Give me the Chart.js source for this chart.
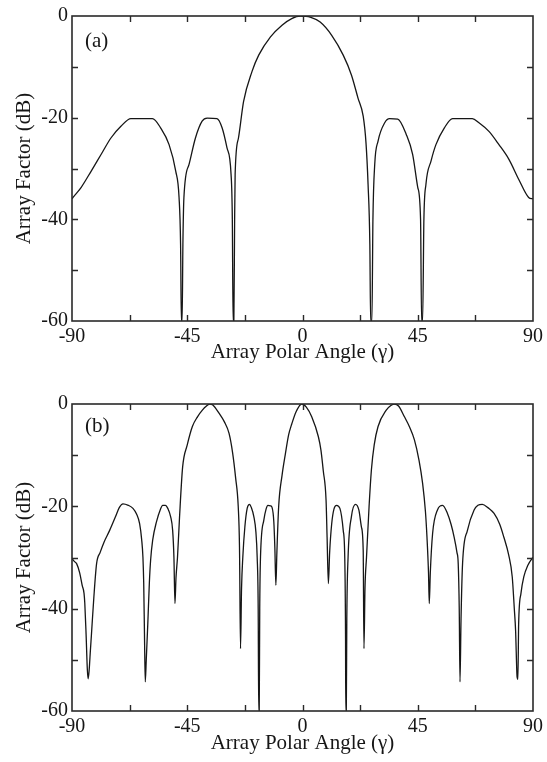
<!DOCTYPE html>
<html><head><meta charset="utf-8">
<script src="https://cdn.jsdelivr.net/npm/chart.js@4.4.1/dist/chart.umd.min.js"></script>
<style>html,body{margin:0;padding:0;background:#fff;}canvas{display:block;}</style>
</head><body>
<canvas id="ca" width="547" height="381"></canvas>
<canvas id="cb" width="547" height="381"></canvas>
<script>
// (a) array factor
const anglesA = [-90,-89.6,-86.4,-82.5,-78.6,-74.8,-70.9,-67,-58.6,-55.4,
  -52.1,-49.5,-48.2,-47.6,-47.3,-47,-46.7,-46.3,-44.3,-41.8,
  -39.2,-37.2,-33.4,-31.4,-29.5,-27.9,-27.4,-27.1,-26.8,-26.5,
  -26.3,-25,-23,-19.7,-17.1,-12.5,-8,-4.2,-0.9,3,
  6.9,11.4,15.9,19.1,21.7,23.7,24.8,25.6,26.3,26.6,
  27.1,27.5,28.2,29.5,32.1,34,37.2,40.5,43,45,
  46.1,46.5,46.9,47.4,48.2,50.2,52.1,55.4,58.6,66.3,
  68.9,72.8,76.7,80.6,84.4,88.3,90];
const dbA = [-36,-35.7,-33.7,-30.5,-27.2,-24,-21.7,-20.2,-20.2,-22,
  -25.3,-30.5,-35.7,-45,-60,-60,-45,-35.7,-29.2,-24,
  -20.7,-20.1,-20.2,-22,-25.9,-31.1,-40,-60,-60,-40,
  -31.1,-24,-16.8,-10.9,-7.7,-4.1,-1.8,-0.5,0,-0.2,
  -1.2,-3.8,-7.7,-11.6,-16.2,-19.7,-25,-33.1,-45,-60,
  -60,-40,-29.2,-24.6,-21,-20.2,-20.3,-23.3,-27.2,-33.7,
  -40,-60,-60,-40,-33.1,-28.5,-25.3,-22,-20.2,-20.2,
  -21,-22.7,-25.3,-28.2,-32.1,-35.7,-36];

// (b) array factor
const anglesB = [-90,-89,-88.2,-87,-86,-85.3,-85,-84.5,-84,-83.7,
  -83.3,-82.8,-82.4,-81.5,-80.4,-79,-77.5,-75.3,-73,-71.5,
  -70.1,-68,-66.2,-64.8,-63.6,-62.8,-62.3,-62,-61.7,-61.4,
  -61,-60.4,-59.8,-59.3,-58.5,-57,-55.5,-54.6,-53.5,-52.6,
  -51.5,-50.7,-50.2,-49.8,-49.4,-48.8,-48,-46.8,-45,-43,
  -41,-39.1,-37.5,-36.2,-35,-32.6,-30.5,-28.7,-27.3,-26.1,
  -25.1,-24.6,-24.2,-23.8,-23.3,-22.5,-21.6,-20.7,-20,-19,
  -18.2,-17.7,-17.3,-17.1,-16.9,-16.7,-16.4,-15.1,-14.2,-13.5,
  -12.5,-11.9,-11.2,-10.8,-10.4,-10,-9.3,-8,-6.7,-5.4,
  -4.2,-2.5,-0.3,1.5,3.6,6.2,7.2,8.1,9.2,9.6,
  10.1,10.6,11.4,12.3,13.3,14.6,15.9,16.5,16.8,16.9,
  17.1,17.3,17.8,19.1,20.7,22,23,23.7,24,24.4,
  25,26,26.9,28,29.5,32.7,34.5,35.9,37.5,39.8,
  41.8,43.7,45.5,46.9,48,48.6,49.2,49.5,49.9,50.8,
  52.7,54.7,56.6,58,59.2,60.3,60.8,61.2,61.5,61.9,
  62.5,64.4,67,68.5,70.2,72.5,74.8,77,78.6,80.5,
  81.9,82.7,83.2,83.8,84.1,84.4,85.3,86.4,88,89.6,
  90];
const dbB = [-30.2,-30.8,-31.2,-33,-35.5,-37,-39,-45,-52,-53.7,
  -52,-48,-45,-38,-31.2,-29,-27,-24.7,-22,-20.2,
  -19.5,-19.8,-20.4,-21.5,-23.4,-26.5,-30,-35,-45,-54.3,
  -50,-42.9,-35,-30.5,-26.6,-23,-20.6,-19.8,-19.8,-20.4,
  -22,-24.7,-30,-39,-34,-29.9,-22,-12.3,-8,-4.4,
  -2.5,-1.2,-0.4,0,-0.2,-1.8,-3.5,-5.7,-9.5,-14.5,
  -20,-28,-47.8,-36,-29.9,-24,-20.4,-19.6,-20.2,-22,
  -25,-29.9,-40,-60,-60,-40,-29.9,-22.7,-20.5,-19.8,
  -19.9,-20.2,-23,-28,-35.4,-29,-20,-14,-9.8,-6,
  -3.9,-1.5,0,-0.6,-2.5,-6.4,-9,-13,-18.8,-26,
  -35.1,-29,-23.4,-20.5,-19.8,-20.4,-24.7,-30,-45,-60,
  -60,-42,-29.9,-22,-19.6,-20.7,-24,-28.6,-47.8,-36,
  -29.9,-20,-12.9,-8,-4.4,-1.2,-0.3,0,-0.4,-2.5,
  -4.5,-7,-11,-15.5,-21,-26,-33,-39,-33,-25.3,
  -20.7,-19.8,-21.4,-23.5,-26,-29,-31.2,-40,-54.3,-42,
  -31.2,-24.7,-20.7,-19.8,-19.6,-20.3,-21.4,-23.5,-26,-29.5,
  -33.8,-40,-44.2,-53.4,-53.8,-42.9,-37,-33.8,-31.5,-30.2,
  -30];

const xTickLabels = [-90, -45, 0, 45, 90];
const yTickLabels = [0, -20, -40, -60];
const xMinorTicks = [-67.5, -45, -22.5, 0, 22.5, 45, 67.5];
const yMinorTicks = [-50, -40, -30, -20, -10];
const panelLabels = ['(a)', '(b)'];
const xTitle = 'Array Polar Angle (\u03b3)';
const yTitle = 'Array Factor (dB)';

const FONT = "'Liberation Serif', 'DejaVu Serif', serif";
const INK = '#161616';

const framePlugin = {
  id: 'frame',
  afterDatasetsDraw(chart, args, opts) {
    const {ctx, chartArea: a, scales: {x, y}} = chart;
    ctx.save();
    ctx.strokeStyle = '#2a2a2a';
    ctx.lineWidth = 1.6;
    ctx.strokeRect(a.left, a.top, a.right - a.left, a.bottom - a.top);
    ctx.lineWidth = 1.4;
    ctx.beginPath();
    const L = 6;
    xMinorTicks.forEach(v => {
      const px = Math.round(x.getPixelForValue(v)) + 0.5;
      ctx.moveTo(px, a.bottom); ctx.lineTo(px, a.bottom - L);
      ctx.moveTo(px, a.top); ctx.lineTo(px, a.top + L);
    });
    yMinorTicks.forEach(v => {
      const py = Math.round(y.getPixelForValue(v)) + 0.5;
      ctx.moveTo(a.left, py); ctx.lineTo(a.left + L, py);
      ctx.moveTo(a.right, py); ctx.lineTo(a.right - L, py);
    });
    ctx.stroke();
    ctx.fillStyle = INK;
    ctx.font = '21px ' + FONT;
    ctx.textBaseline = 'middle';
    ctx.textAlign = 'left';
    ctx.fillText(opts.label, a.left + 13, a.top + opts.labelDy);
    ctx.restore();
  }
};

function makeChart(id, angles, db, label, g) {
  const n = Math.min(angles.length, db.length);
  const pts = angles.slice(0, n).map((a, i) => ({x: a, y: db[i]}));
  return new Chart(document.getElementById(id), {
    type: 'line',
    data: {datasets: [{data: pts, borderColor: INK, borderWidth: 1.3,
      pointRadius: 0, cubicInterpolationMode: 'monotone', fill: false}]},
    options: {
      responsive: false, animation: false, devicePixelRatio: 1,
      layout: {padding: {left: 0, right: 11, top: g.top, bottom: 0}},
      plugins: {legend: {display: false}, tooltip: {enabled: false},
        frame: {label: label, labelDy: g.labelDy}},
      scales: {
        x: {type: 'linear', min: -90, max: 90,
          afterFit(s) { s.height = g.xh; },
          grid: {display: false, drawTicks: false}, border: {display: false},
          ticks: {stepSize: 45, autoSkip: false, padding: 4, color: INK,
            font: {family: FONT, size: 20},
            callback: v => xTickLabels.includes(v) ? String(v) : ''},
          title: {display: true, text: xTitle, color: INK,
            font: {family: FONT, size: 21}, padding: {top: 0, bottom: g.tpb}}},
        y: {type: 'linear', min: -60, max: 0,
          afterFit(s) { s.width = 72; },
          grid: {display: false, drawTicks: false}, border: {display: false},
          ticks: {stepSize: 20, autoSkip: false, padding: 4, color: INK,
            font: {family: FONT, size: 20},
            callback: v => yTickLabels.includes(v) ? String(v) : ''},
          title: {display: true, text: yTitle, color: INK,
            font: {family: FONT, size: 21}, padding: {top: 12, bottom: 0}}}
      }
    },
    plugins: [framePlugin]
  });
}

makeChart('ca', anglesA, dbA, panelLabels[0], {top: 14, xh: 60, tpb: 16, labelDy: 25});
makeChart('cb', anglesB, dbB, panelLabels[1], {top: 23, xh: 51, tpb: 6, labelDy: 22});
</script>
</body></html>
